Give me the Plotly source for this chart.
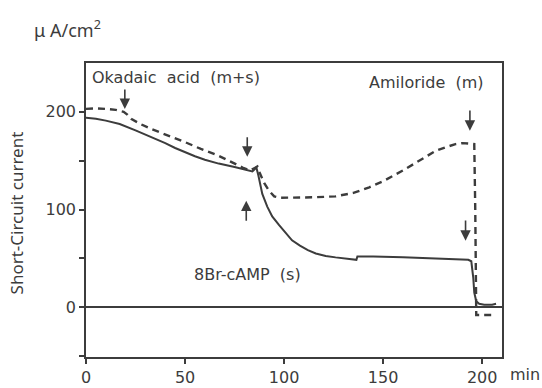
import plotly.graph_objects as go

# ---- data (time in min, current in uA/cm2) ----
solid_t = [0, 5, 10, 17, 25, 33.5, 40, 45, 50, 55, 60, 67, 75, 82, 84, 85, 86, 87, 89,
           91.5, 94, 97.5, 101, 104, 108, 112, 116, 121, 126, 130, 135, 136.5, 137, 145,
           160, 175, 185, 193, 194.5, 195.5, 196, 197, 198.5, 201, 205, 207]
solid_v = [194, 193, 191, 187.5, 181, 174, 168, 163, 158.5, 154.5, 151, 147, 143.5, 140,
           139, 141, 143, 135, 116, 103, 93, 84, 75, 68.5, 63, 58.5, 55, 52.5, 51, 50,
           48.8, 48.5, 52, 52, 51, 50, 49.5, 48.5, 47, 30, 15, 6, 3.5, 2.5, 2.5, 3.5]

dash_t = [0, 5, 10, 15, 19, 21, 23, 28, 33.5, 42, 50, 58, 67, 73, 79, 83, 85, 86.5, 88, 90,
          92.5, 95, 98, 105, 115, 126, 135, 143, 150, 160, 168, 176.5, 182, 186.5, 190,
          196, 196.5, 196.8, 197, 200, 207]
dash_v = [203, 203.5, 203, 202, 200, 197, 192.5, 187, 182, 175.5, 169, 162, 155, 149, 143,
          140, 142.5, 144, 136, 127, 119, 113.5, 112, 112, 112.5, 113.5, 117, 122.7, 129,
          140, 150, 160, 164, 167, 168, 167, 100, 30, -8, -8, -8]

x_ticks = [0, 50, 100, 150, 200]
y_ticks = [0, 100, 200]
y_minor_ticks = [-50, 50, 150]

# arrows: (x, tail_y, tip_y)
arrows = [(19.6, 224.5, 203), (81.4, 175.6, 154), (80.9, 87, 109),
          (193.8, 203, 180.7), (191.6, 90.4, 68)]

labels = [("Okadaic\u00a0 acid\u00a0 (m+s)", 45.2, 235),
          ("Amiloride\u00a0 (m)", 171.4, 230),
          ("8Br-cAMP\u00a0 (s)", 81.5, 33)]

INK = "#3c3c3c"
FONT = "DejaVu Sans"

fig = go.Figure()
fig.add_trace(go.Scatter(x=solid_t, y=solid_v, mode="lines",
                         line=dict(color=INK, width=2), showlegend=False))
fig.add_trace(go.Scatter(x=dash_t, y=dash_v, mode="lines",
                         line=dict(color=INK, width=2.4, dash="7px,5px"), showlegend=False))

for x, ty, hy in arrows:
    fig.add_annotation(x=x, y=hy, ax=x, ay=ty, xref="x", yref="y", axref="x", ayref="y",
                       text="", showarrow=True, arrowhead=2, arrowsize=1.3,
                       arrowwidth=1.6, arrowcolor=INK)

for txt, x, y in labels:
    fig.add_annotation(x=x, y=y, xref="x", yref="y", text=txt, showarrow=False,
                       xanchor="center", yanchor="middle",
                       font=dict(family=FONT, size=16, color=INK))

fig.add_annotation(x=1.056, y=-0.058, xref="paper", yref="paper", text="min",
                   showarrow=False, xanchor="center", yanchor="middle",
                   font=dict(family=FONT, size=16, color=INK))
fig.add_annotation(x=-0.045, y=1.115, xref="paper", yref="paper",
                   text="\u03bc A/cm<sup>2</sup>", showarrow=False,
                   xanchor="center", yanchor="middle",
                   font=dict(family="Noto Sans", size=18, color=INK))
fig.add_annotation(x=-0.166, y=0.4915, xref="paper", yref="paper",
                   text="Short-Circuit current", textangle=-90, showarrow=False,
                   xanchor="center", yanchor="middle",
                   font=dict(family="Noto Sans", size=17, color=INK))

fig.update_xaxes(range=[0, 210], tickvals=x_ticks, ticks="outside", ticklen=5,
                 tickwidth=1.5, tickcolor=INK, showline=True, linecolor=INK, linewidth=1.5,
                 mirror=True, showgrid=False, zeroline=False, automargin=False,
                 tickfont=dict(family=FONT, size=16, color=INK))
fig.update_yaxes(range=[-51, 250], tickvals=y_ticks, ticks="outside",
                 ticklen=5, tickwidth=1.5, tickcolor=INK, showline=True, linecolor=INK,
                 linewidth=1.5, mirror=True, showgrid=False, zeroline=True,
                 zerolinecolor=INK, zerolinewidth=1.5, automargin=False,
                 minor=dict(tickvals=y_minor_ticks, ticks="outside", ticklen=5,
                            tickwidth=1.5, tickcolor=INK, showgrid=False),
                 tickfont=dict(family=FONT, size=16, color=INK))

fig.update_layout(width=542, height=388, margin=dict(l=86, r=40, t=63, b=31),
                  plot_bgcolor="white", paper_bgcolor="white")

fig.write_html("out.html")
